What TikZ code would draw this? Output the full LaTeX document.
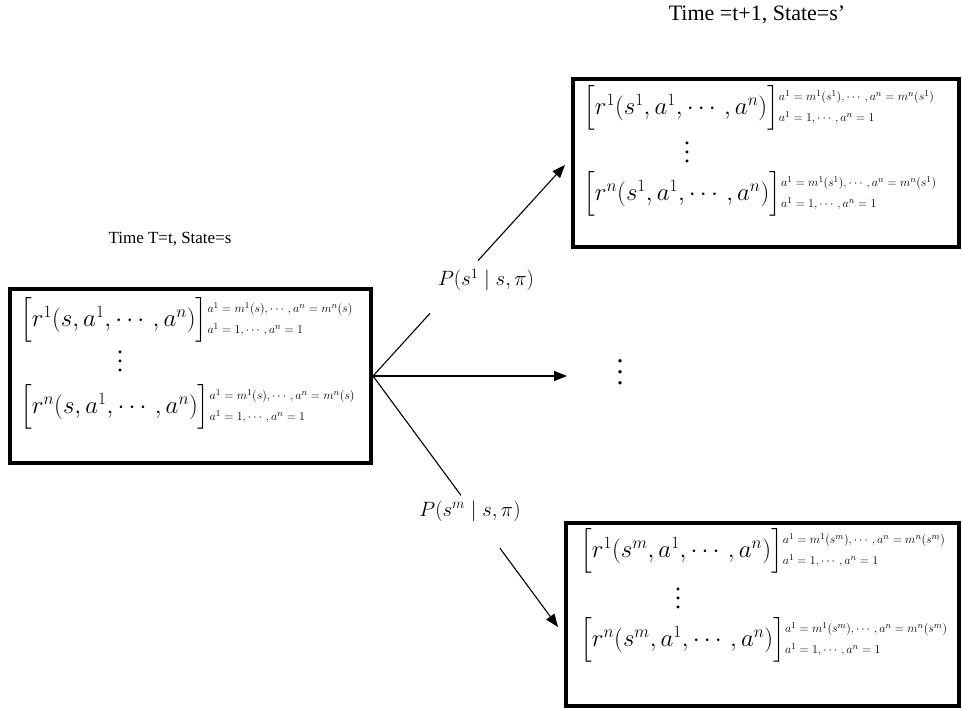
\documentclass[tikz,border=0pt]{standalone}
\usepackage{amsmath}
\usepackage{fontspec}
\setmainfont{Liberation Serif}
\usetikzlibrary{arrows.meta,calc}
\newcommand\mylims[2]{\Bigr]\vcenter{\hbox{\fontsize{12.5}{12.5}\selectfont\begin{tabular}{@{}l@{}}$#1$\\[7.5pt]$#2$\end{tabular}}}}
\newcommand\myvdots[1]{\vbox{\baselineskip=#1\lineskiplimit=0pt\hbox{.}\hbox{.}\hbox{.}}}
\begin{document}
\begin{tikzpicture}[x=1pt,y=-1pt,
  statebox/.style={draw,line width=4pt,inner sep=0pt},
  mline/.style={anchor=west,inner sep=0pt,font=\fontsize{24}{32}\selectfont},
  dotsnode/.style={inner sep=0pt,font=\fontsize{24}{28}\selectfont},
  conn/.style={line width=1.1pt},
  tip/.style={-{Triangle[length=13pt,width=10pt]}},
  plabel/.style={inner sep=0pt,font=\fontsize{21}{24}\selectfont},
  title/.style={inner sep=0pt}]
\useasboundingbox (0,0) rectangle (962,711);
\fill[white] (0,0) rectangle (962,711);
% boxes
\node[statebox,minimum width=361pt,minimum height=174pt] (L) at (190.5,376) {};
\node[statebox,minimum width=386pt,minimum height=168pt] (T) at (766,163) {};
\node[statebox,minimum width=393pt,minimum height=183pt] (B) at (762.5,614.5) {};
% titles
\node[title,font=\fontsize{17}{20}\selectfont] (tl) at (170,239) {Time T=t, State=s};
\node[title,font=\fontsize{22}{24}\selectfont] (tr) at (757,15) {Time =t+1, State=s'};
% left box content
\node[mline] (l1) at (20,320) {$\Bigl[r^{1}(s,a^{1},\cdots,a^{n})\mylims{a^{1}=m^{1}(s),\cdots,a^{n}=m^{n}(s)}{a^{1}=1,\cdots,a^{n}=1}$};
\node[dotsnode] (ld) at (120,361) {\myvdots{9pt}};
\node[mline] (l2) at (20,407) {$\Bigl[r^{n}(s,a^{1},\cdots,a^{n})\mylims{a^{1}=m^{1}(s),\cdots,a^{n}=m^{n}(s)}{a^{1}=1,\cdots,a^{n}=1}$};
% top box content
\node[mline] (t1l) at (583,108) {$\Bigl[r^{1}(s^{1},a^{1},\cdots,a^{n})\mylims{a^{1}=m^{1}(s^{1}),\cdots,a^{n}=m^{n}(s^{1})}{a^{1}=1,\cdots,a^{n}=1}$};
\node[dotsnode] (td) at (687,152) {\myvdots{9pt}};
\node[mline] (t2l) at (583,194) {$\Bigl[r^{n}(s^{1},a^{1},\cdots,a^{n})\mylims{a^{1}=m^{1}(s^{1}),\cdots,a^{n}=m^{n}(s^{1})}{a^{1}=1,\cdots,a^{n}=1}$};
% bottom box content
\node[mline] (b1l) at (580,551) {$\Bigl[r^{1}(s^{m},a^{1},\cdots,a^{n})\mylims{a^{1}=m^{1}(s^{m}),\cdots,a^{n}=m^{n}(s^{m})}{a^{1}=1,\cdots,a^{n}=1}$};
\node[dotsnode] (bd) at (678,598) {\myvdots{9pt}};
\node[mline] (b2l) at (580,640) {$\Bigl[r^{n}(s^{m},a^{1},\cdots,a^{n})\mylims{a^{1}=m^{1}(s^{m}),\cdots,a^{n}=m^{n}(s^{m})}{a^{1}=1,\cdots,a^{n}=1}$};
% middle dots
\node[dotsnode,font=\fontsize{28}{30}\selectfont] (md) at (620,372) {\myvdots{11pt}};
% connectors
\coordinate (o) at (L.east);
\coordinate (e1) at (565,165);
\coordinate (e2) at (567,376);
\coordinate (e3) at (558,627);
\node[plabel] (p1) at (486,280) {$P(s^{1}\mid s,\pi)$};
\node[plabel] (p2) at (470,511) {$P(s^{m}\mid s,\pi)$};
\draw[conn] (o) -- ($(o)!0.297!(e1)$);
\draw[conn,tip] ($(o)!0.547!(e1)$) -- (e1);
\draw[conn,tip] (o) -- (e2);
\draw[conn] (o) -- ($(o)!0.475!(e3)$);
\draw[conn,tip] ($(o)!0.686!(e3)$) -- (e3);
\end{tikzpicture}
\end{document}
